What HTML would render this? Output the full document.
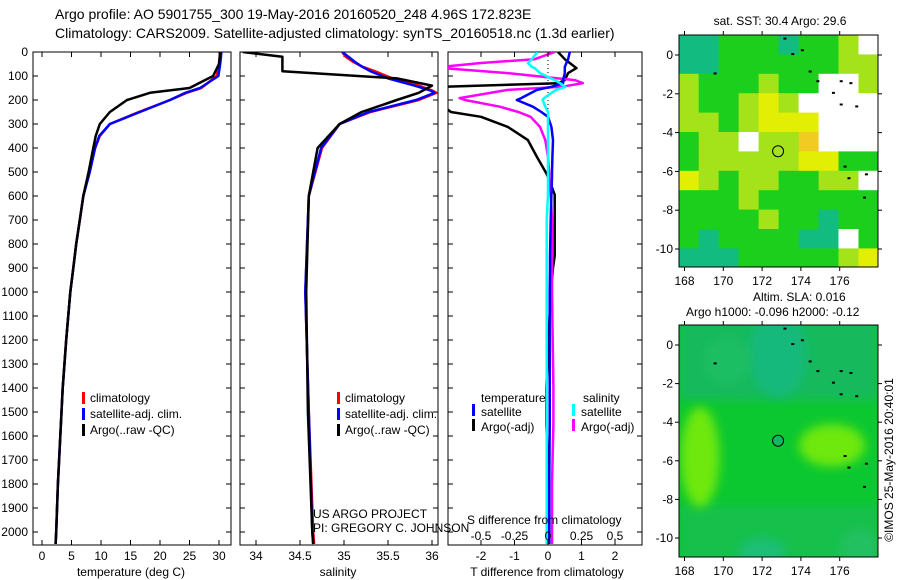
<!DOCTYPE html>
<html><head><meta charset="utf-8"><style>
html,body{margin:0;padding:0;background:#fff}
svg{display:block;font-family:"Liberation Sans",sans-serif}
</style></head><body>
<svg id="s" width="900" height="580" viewBox="0 0 900 580">
<defs>
<filter id="blur" x="-20%" y="-20%" width="140%" height="140%"><feGaussianBlur stdDeviation="5"/></filter>
<clipPath id="c1"><rect x="33" y="52" width="198" height="493"/></clipPath>
<clipPath id="c2"><rect x="240" y="52" width="198" height="493"/></clipPath>
<clipPath id="c3"><rect x="448" y="52" width="194" height="493"/></clipPath>
<clipPath id="m1"><rect x="679" y="35" width="199" height="232"/></clipPath>
<clipPath id="m2"><rect x="679" y="325" width="199" height="232"/></clipPath>
</defs>
<text x="55" y="19" font-size="14">Argo profile: AO 5901755_300 19-May-2016 20160520_248 4.96S 172.823E</text>
<text x="55" y="38" font-size="14">Climatology: CARS2009. Satellite-adjusted climatology: synTS_20160518.nc (1.3d earlier)</text>
<g id="g"></g>
</svg>
<script>
// ---- data ----
const tDepth = [0,50,100,150,170,200,250,300,350,400,500,600,700,800,900,1000,1200,1400,1600,1800,2000,2050];
const tClim  = [30.2,30.0,29.6,27.0,24.5,21.7,16.4,11.5,9.8,9.0,8.0,7.0,6.4,5.8,5.3,4.8,4.1,3.5,3.1,2.7,2.4,2.3];
const tSat   = [30.4,30.2,29.9,26.8,24.3,21.7,16.6,11.5,9.7,9.0,8.1,7.0,6.4,5.8,5.3,4.8,4.1,3.5,3.1,2.7,2.4,2.3];
const tArgo  = [30.2,30.0,29.0,25.0,18.3,14.4,11.5,9.8,9.1,8.7,7.9,7.0,6.4,5.8,5.3,4.8,4.1,3.5,3.1,2.7,2.4,2.3];
const sDepth = [0,20,40,60,80,110,140,160,170,200,250,300,400,600,1000,1500,2000,2050];
const sClim  = [34.98,35.02,35.1,35.2,35.35,35.55,35.85,36.0,36.05,35.85,35.3,34.95,34.75,34.6,34.56,34.6,34.65,34.66];
const sSat   = [34.98,35.05,35.12,35.2,35.3,35.5,35.8,35.98,36.03,35.82,35.28,34.95,34.74,34.6,34.56,34.6,34.64,34.65];
const sArgo  = [33.85,34.3,34.3,34.3,34.3,35.6,36.0,35.9,35.85,35.6,35.2,34.95,34.7,34.6,34.57,34.59,34.64,34.65];
const dDepth = [0,30,46,62,67,88,117,130,145,158,192,200,228,250,270,312,367,437,505,520,595,700,850,900,1000,1400,1550,1800,2050];
const dTsat  = [0.65,0.6,0.55,0.5,0.5,0.5,0.45,0.45,0.1,-0.33,-0.8,-0.93,-0.45,-0.2,0,0.1,0.15,0.13,0.12,0.12,0.1,0.08,0.06,0.06,0.05,0.05,0.05,0.04,0.04];
const dTargo = [0.3,0.5,0.65,0.8,0.85,0.6,0.5,0.3,-3.2,-3.2,-3.2,-3.2,-3.1,-2.9,-2.0,-1.2,-0.6,-0.33,-0.05,0,0.2,0.2,0.2,0.15,0.08,-0.05,-0.05,0.02,0.02];
const dSsat  = [-0.08,-0.12,-0.15,-0.12,-0.1,-0.06,0.05,0.09,0.13,0.06,-0.03,-0.04,-0.02,0,0,0,0,0,0,0,0,-0.01,-0.01,-0.01,-0.01,-0.01,-0.01,-0.01,-0.01];
const dSargo = [0.05,-0.1,-0.5,-0.8,-0.78,-0.3,0.2,0.26,0.1,-0.3,-0.66,-0.62,-0.36,-0.22,-0.13,-0.06,-0.02,0,0.01,0.01,0.02,0.03,0.03,0.03,0.03,0.04,0.04,0.03,0.03];
const depthTicks = [0,100,200,300,400,500,600,700,800,900,1000,1100,1200,1300,1400,1500,1600,1700,1800,1900,2000];
const tTicks = [0,5,10,15,20,25,30];
const sTicks = [34,34.5,35,35.5,36];
const dtTicks = [-2,-1,0,1,2];
const dsTicks = [-0.5,-0.25,0,0.25,0.5];
const dsTickLabels = ['-0.5','-0.25','0','0.25','0.5'];
const lonTicks = [168,170,172,174,176];
const latTicks1 = [0,-2,-4,-6,-8,-10];
const argoLon = 172.823, argoLat = -4.96;
const sstGrid = [
 [0,0,1,1,1,0,1,1,2,9],
 [0,0,1,1,1,1,1,1,2,2],
 [2,1,1,1,2,1,1,9,9,2],
 [2,1,1,2,3,2,9,9,9,9],
 [2,2,1,2,3,3,3,9,9,9],
 [1,2,2,9,2,2,4,9,9,9],
 [1,2,2,2,2,2,3,3,1,1],
 [3,2,1,2,2,1,1,2,2,9],
 [1,1,1,2,1,1,1,1,1,1],
 [1,1,1,1,2,1,1,0,1,1],
 [1,0,1,1,1,1,0,0,9,1],
 [0,0,0,1,1,1,1,1,2,3]];
const sstColors = ['#12bc80','#1ccf1c','#a4e21a','#e2ee04','#f0cc22'];
const slaLon = [172.8,170.2,175.6,168.8,172.0,177.0];
const slaLat = [-0.5,-0.8,-5.2,-5.8,-10.8,-10.5];
const slaRx  = [1.5,1.2,1.7,1.0,1.2,1.0];
const slaRy  = [2.2,1.2,1.1,2.6,0.8,1.0];
const slaCol = ['#14b97c','#1cbe64','#6ee80a','#6ee80a','#1cbe78','#24c060'];

// ---- helpers ----
const NS='http://www.w3.org/2000/svg', G=document.getElementById('g');
function mk(tag,at,parent){const e=document.createElementNS(NS,tag);for(const k in at)e.setAttribute(k,at[k]);(parent||G).appendChild(e);return e;}
const yD = d => 52 + d*0.24;
const xT = t => 42 + t*5.9;
const xS = s => 256 + (s-34)*88;
const xDT = t => 548 + t*33.5;
const xDS = s => 548 + s*134;

function frame(x0,x1,name){
  const r=mk('rect',{x:x0,y:52,width:x1-x0,height:493,fill:'none',stroke:'#000','stroke-width':1});
  
  
  depthTicks.forEach(d=>{const y=yD(d);mk('line',{x1:x0,x2:x0+5,y1:y,y2:y,stroke:'#000'});mk('line',{x1:x1-5,x2:x1,y1:y,y2:y,stroke:'#000'});});
}
function line(xs,ds,fx,color,w,clip,name){
  const p=xs.map((v,i)=>fx(v).toFixed(1)+','+yD(ds[i]).toFixed(1)).join(' ');
  const e=mk('polyline',{points:p,fill:'none',stroke:color,'stroke-width':w,'clip-path':'url(#'+clip+')','stroke-linejoin':'round'});
  
  
}
function txt(x,y,s,opts,name){const e=mk('text',Object.assign({x:x,y:y,'font-size':12},opts||{}));e.textContent=s;return e;}
function xticks(x0,x1,ticks,fx,labels,y){
  ticks.forEach((t,i)=>{const x=fx(t);mk('line',{x1:x,x2:x,y1:52,y2:57,stroke:'#000'});mk('line',{x1:x,x2:x,y1:540,y2:545,stroke:'#000'});
    txt(x,y,labels?labels[i]:String(t),{'text-anchor':'middle'},'x-tick-label');});
}

frame(33,231,'temperature-panel');
depthTicks.forEach(d=>txt(28,yD(d)+4,String(d),{'text-anchor':'end'},'depth-tick-label'));
xticks(33,231,tTicks,xT,null,560);
txt(131,576,'temperature (deg C)',{'text-anchor':'middle'},'temperature-axis-title');
line(tClim,tDepth,xT,'#f00',2.5,'c1','temp-climatology-line');
line(tSat,tDepth,xT,'#00f',2.5,'c1','temp-satellite-line');
line(tArgo,tDepth,xT,'#000',2.5,'c1','temp-argo-line');
function legend(x,y,items,name){
  items.forEach((it,i)=>{mk('rect',{x:x,y:y+i*16-10,width:3,height:12,fill:it[1]});txt(x+8,y+i*16,it[0],{},name);});
}
legend(82,402,[['climatology','#f00'],['satellite-adj. clim.','#00f'],['Argo(..raw -QC)','#000']],'temp-legend-entry');

frame(240,438,'salinity-panel');
xticks(240,438,sTicks,xS,null,560);
txt(338,576,'salinity',{'text-anchor':'middle'},'salinity-axis-title');
line(sClim,sDepth,xS,'#f00',2.5,'c2','sal-climatology-line');
line(sSat,sDepth,xS,'#00f',2.5,'c2','sal-satellite-line');
line(sArgo,sDepth,xS,'#000',2.5,'c2','sal-argo-line');
legend(337,402,[['climatology','#f00'],['satellite-adj. clim.','#00f'],['Argo(..raw -QC)','#000']],'sal-legend-entry');
txt(313,518,'US ARGO PROJECT',{},'project-label');
txt(313,532,'PI: GREGORY C. JOHNSON',{},'pi-label');

frame(448,642,'difference-panel');
mk('line',{x1:548,x2:548,y1:52,y2:160,stroke:'#000','stroke-dasharray':'1,3'});
line(dTargo,dDepth,xDT,'#000',2.5,'c3','t-diff-argo-line');
line(dSargo,dDepth,xDS,'#f0f',2.5,'c3','s-diff-argo-line');
line(dTsat,dDepth,xDT,'#00f',2.5,'c3','t-diff-satellite-line');
line(dSsat,dDepth,xDS,'#0ff',2.5,'c3','s-diff-satellite-line');
dtTicks.forEach(t=>{const x=xDT(t);mk('line',{x1:x,x2:x,y1:540,y2:545,stroke:'#000'});mk('line',{x1:x,x2:x,y1:52,y2:57,stroke:'#000'});txt(x,560,String(t),{'text-anchor':'middle'},'t-diff-tick-label');});
dsTicks.forEach((t,i)=>txt(xDS(t),540,dsTickLabels[i],{'text-anchor':'middle'},'s-diff-tick-label'));
txt(467,524,'S difference from climatology',{},'s-diff-axis-title');
txt(547,576,'T difference from climatology',{'text-anchor':'middle'},'t-diff-axis-title');
txt(481,402,'temperature',{},'diff-legend-header');
txt(583,402,'salinity',{},'diff-legend-header');
mk('rect',{x:472,y:404,width:3,height:12,fill:'#00f'});txt(481,416,'satellite',{},'diff-legend-entry');
mk('rect',{x:472,y:419,width:3,height:12,fill:'#000'});txt(481,431,'Argo(-adj)',{},'diff-legend-entry');
mk('rect',{x:572,y:404,width:3,height:12,fill:'#0ff'});txt(581,416,'satellite',{},'diff-legend-entry');
mk('rect',{x:572,y:419,width:3,height:12,fill:'#f0f'});txt(581,431,'Argo(-adj)',{},'diff-legend-entry');

const mx = lon => 684.5 + (lon-168)*19.4;
const my1 = lat => 55 - lat*19.4;
const my2 = lat => 345 - lat*19.3;
function mapAxes(y0,y1,fy,name){
  const r=mk('rect',{x:679,y:y0,width:199,height:y1-y0,fill:'none',stroke:'#000'});
  
  
  lonTicks.forEach(l=>{const x=mx(l);mk('line',{x1:x,x2:x,y1:y0,y2:y0-4,stroke:'#000'});mk('line',{x1:x,x2:x,y1:y1,y2:y1+4,stroke:'#000'});txt(x,y1+18,String(l),{'text-anchor':'middle'},'lon-tick-label');});
  latTicks1.forEach(l=>{const y=fy(l);mk('line',{x1:679,x2:675,y1:y,y2:y,stroke:'#000'});mk('line',{x1:878,x2:882,y1:y,y2:y,stroke:'#000'});txt(673,y+4,String(l),{'text-anchor':'end'},'lat-tick-label');});
}
const g1=mk('g',{'clip-path':'url(#m1)'});


mk('rect',{x:679,y:35,width:199,height:232,fill:'#1ccf1c'},g1);
sstGrid.forEach((row,i)=>row.forEach((v,j)=>{
  const x=mx(167.7+j*1.03), y=my1(1.03-i*1.0);
  const c=mk('rect',{x:x.toFixed(1),y:y.toFixed(1),width:20.5,height:19.8,fill:v===9?'#fff':sstColors[v]},g1);
  
  
}));
mapAxes(35,267,my1,'sst-map-frame');
txt(780,25,'sat. SST: 30.4 Argo: 29.6',{'text-anchor':'middle'},'sst-map-title');
mk('circle',{cx:mx(argoLon),cy:my1(argoLat),r:5.5,fill:'none',stroke:'#000'});

const g2=mk('g',{'clip-path':'url(#m2)'});


mk('rect',{x:679,y:325,width:199,height:232,fill:'#0cc830'},g2);
mk('rect',{x:679,y:320,width:199,height:80,fill:'#16ba5c',filter:'url(#blur)'},g2);
mk('rect',{x:679,y:505,width:199,height:60,fill:'#12c04c',filter:'url(#blur)'},g2);
slaLon.forEach((l,i)=>{
  const e=mk('ellipse',{cx:mx(l),cy:my2(slaLat[i]),rx:slaRx[i]*19.4,ry:slaRy[i]*19.3,fill:slaCol[i],filter:'url(#blur)'},g2);
  
  
});
mapAxes(325,557,my2,'sla-map-frame');
txt(753,301,'Altim. SLA: 0.016',{},'sla-map-title');
txt(686,316,'Argo h1000: -0.096 h2000: -0.12',{},'sla-map-subtitle');
mk('circle',{cx:mx(argoLon),cy:my2(argoLat),r:5.5,fill:'#12b860',stroke:'#000'});
[[173.1,0.9],[173.5,0.1],[174,0.3],[174.4,-0.8],[174.8,-1.3],[175.6,-1.9],[176,-1.3],[176.5,-1.4],[169.5,-0.9],[176,-2.5],[176.8,-2.6],[176.2,-5.7],[176.4,-6.3],[177.3,-6.1],[177.2,-7.3]].forEach(p=>{
  mk('rect',{x:mx(p[0]),y:my1(p[1]),width:3,height:2,fill:'#000'});
  mk('rect',{x:mx(p[0]),y:my2(p[1]),width:3,height:2,fill:'#000'});
});
const cr=txt(0,0,'©IMOS 25-May-2016 20:40:01',{transform:'translate(893,460) rotate(-90)','text-anchor':'middle'},'imos-timestamp');
</script>
</body></html>
